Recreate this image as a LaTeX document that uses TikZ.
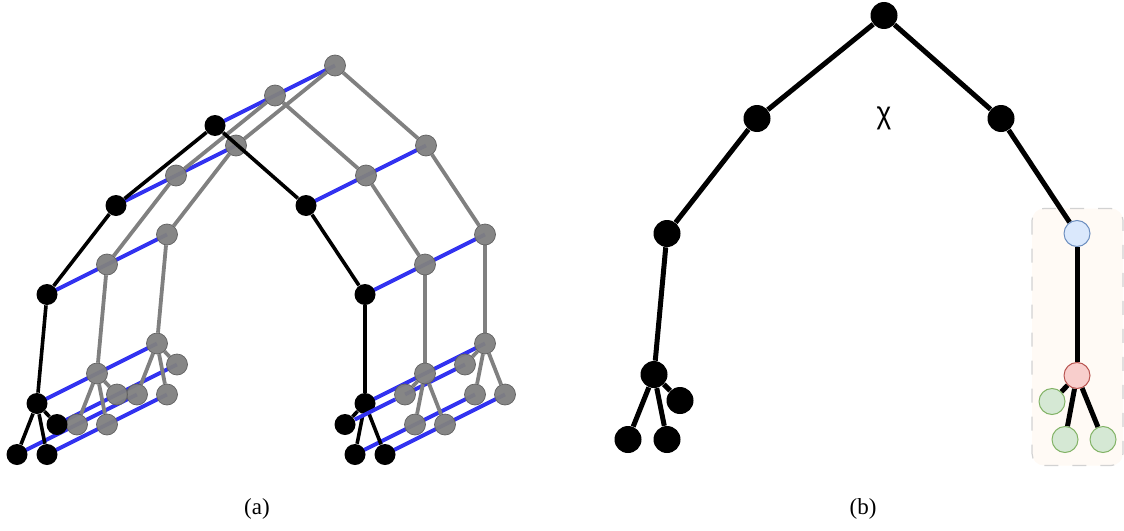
\documentclass[tikz,border=0pt]{standalone}
\usepackage{fontspec}
\setmainfont{Liberation Serif}
\newfontfamily\chifont{Liberation Sans}
\pgfdeclarelayer{box}
\pgfdeclarelayer{blue}
\pgfdeclarelayer{gre}
\pgfdeclarelayer{gry}
\pgfdeclarelayer{blke}
\pgfdeclarelayer{blk}
\pgfdeclarelayer{topblue}
\pgfsetlayers{box,blue,gre,gry,blke,blk,topblue,main}
\definecolor{eblue}{RGB}{50,50,240}
\definecolor{nbluef}{RGB}{218,232,252}
\definecolor{nblued}{RGB}{108,142,191}
\definecolor{nredf}{RGB}{248,206,204}
\definecolor{nredd}{RGB}{184,84,80}
\definecolor{ngreenf}{RGB}{213,232,212}
\definecolor{ngreend}{RGB}{130,179,102}
\definecolor{boxf}{RGB}{255,250,245}
\definecolor{boxd}{RGB}{210,210,210}
\tikzset{
  x=0.5pt,y=-0.5pt,
  blacknode/.style={circle,fill=black,inner sep=0pt,minimum size=10.5pt},
  graynode/.style={circle,fill=gray,draw=gray!75!black,line width=0.35pt,fill opacity=0.95,inner sep=0pt,minimum size=10.5pt},
  bignode/.style={circle,fill=black,inner sep=0pt,minimum size=13.5pt},
  colnode/.style={circle,line width=0.5pt,inner sep=0pt,minimum size=13pt},
  bluenode/.style={colnode,fill=nbluef,draw=nblued},
  rednode/.style={colnode,fill=nredf,draw=nredd},
  greennode/.style={colnode,fill=ngreenf,draw=ngreend},
  blueedge/.style={draw=eblue,line width=2pt},
  grayedge/.style={draw=gray,line width=1.9pt},
  blackedge/.style={draw=black,line width=1.8pt},
  thickedge/.style={draw=black,line width=2.5pt},
  groupbox/.style={rounded corners=6pt,fill=boxf,draw=boxd,line width=0.6pt,dash pattern=on 7pt off 7pt},
  captext/.style={font=\fontsize{11.5}{13}\selectfont,inner sep=0pt}
}
\newcommand{\treelayer}[5]{% node style, edge style, dx, prefix, edge layer
  \begin{scope}[shift={(#3,-#3/2)}]
    \node[#1] (#4r) at (215,125) {};
    \node[#1] (#4a) at (116,205) {};
    \node[#1] (#4b) at (306,205) {};
    \node[#1] (#4c) at (47,294) {};
    \node[#1] (#4d) at (365,294) {};
    \node[#1] (#4e) at (37,403) {};
    \node[#1] (#4f) at (365,403) {};
    \node[#1] (#4g) at (17,454) {};
    \node[#1] (#4h) at (47,454) {};
    \node[#1] (#4i) at (57,424) {};
    \node[#1] (#4j) at (345,424) {};
    \node[#1] (#4k) at (355,454) {};
    \node[#1] (#4l) at (385,454) {};
  \end{scope}
  \begin{pgfonlayer}{#5}
  \foreach \p/\q in {r/a,r/b,a/c,b/d,c/e,d/f,e/g,e/h,e/i,f/j,f/k,f/l}{
    \draw[#2] (#4\p) -- (#4\q);
  }
  \end{pgfonlayer}
}
\begin{document}
\begin{tikzpicture}
\useasboundingbox (0,-0.5) rectangle (1124,529.5);
% panel (a)
\begin{pgfonlayer}{gry}
  \treelayer{graynode}{grayedge}{120}{t}{gre}
  \treelayer{graynode}{grayedge}{60}{s}{gre}
\end{pgfonlayer}
\begin{pgfonlayer}{blk}
  \treelayer{blacknode}{blackedge}{0}{f}{blke}
\end{pgfonlayer}
\begin{pgfonlayer}{blue}
  \foreach \p in {r,a,b,c,d,e,f,g,h,i,k,l}{
    \draw[blueedge] (f\p.center) -- (t\p.center);
  }
  \draw[blueedge] (sj.center) -- (tj.center);
\end{pgfonlayer}
\begin{pgfonlayer}{topblue}
  \draw[blueedge] (fj) -- (sj);
\end{pgfonlayer}
% panel (b)
\node[captext] (capa) at (257,508) {(a)};
\node[captext] (capb) at (863,508) {(b)};
\node[font=\chifont\fontsize{15.5}{17}\selectfont,inner sep=0pt,xscale=0.9] (chi) at (884,118) {χ};
\begin{pgfonlayer}{box}
  \draw[groupbox] (1032,208) rectangle (1123,465);
\end{pgfonlayer}
\node[bignode] (b0) at (884,15) {};
\node[bignode] (b1) at (757,118) {};
\node[bignode] (b2) at (1001,118) {};
\node[bignode] (b3) at (667,233) {};
\node[bignode] (b4) at (654,374) {};
\node[bignode] (b5) at (628,439) {};
\node[bignode] (b6) at (667,439) {};
\node[bignode] (b7) at (680,400) {};
\node[bluenode] (c0) at (1077,233) {};
\node[rednode] (c1) at (1077,375) {};
\node[greennode] (c2) at (1052,401) {};
\node[greennode] (c3) at (1065,439) {};
\node[greennode] (c4) at (1103,439) {};
\begin{pgfonlayer}{blue}
\draw[thickedge] (b0) -- (b1);
\draw[thickedge] (b0) -- (b2);
\draw[thickedge] (b1) -- (b3);
\draw[thickedge] (b3) -- (b4);
\draw[thickedge] (b4) -- (b5);
\draw[thickedge] (b4) -- (b6);
\draw[thickedge] (b4) -- (b7);
\draw[thickedge] (b2) -- (c0);
\draw[thickedge] (c0) -- (c1);
\draw[thickedge] (c1) -- (c2);
\draw[thickedge] (c1) -- (c3);
\draw[thickedge] (c1) -- (c4);
\end{pgfonlayer}
\end{tikzpicture}
\end{document}
